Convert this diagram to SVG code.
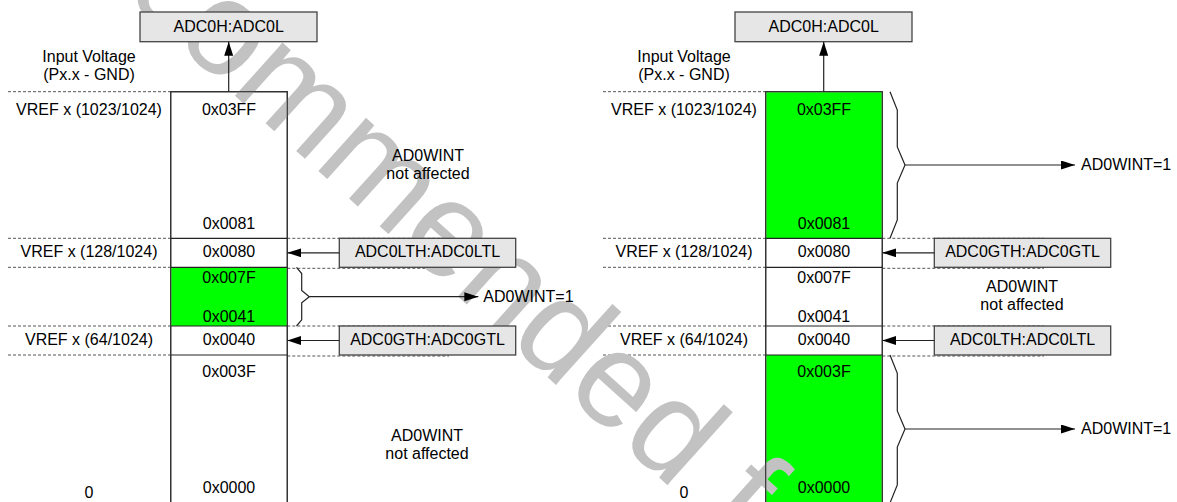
<svg xmlns="http://www.w3.org/2000/svg" width="1177" height="502" viewBox="0 0 1177 502">
<style>
text{font-family:"Liberation Sans",Arial,sans-serif;font-size:16px;fill:#000}
.c{text-anchor:middle}
.col{fill:#fff;stroke:#333;stroke-width:1.2}
.g{fill:#00ff00;stroke:none}
.row{stroke:#222;stroke-width:1.2;fill:none}
.dash{stroke:#555;stroke-width:1;stroke-dasharray:3 2;fill:none}
.box{fill:#e6e6e6;stroke:#444;stroke-width:1.3}
.ln{stroke:#222;stroke-width:1.2;fill:none}
.br{stroke:#222;stroke-width:1.2;fill:none;stroke-linejoin:miter}
.wm{font-size:135px;fill:#c2c2c2}
</style>
<defs>
<marker id="ah" markerUnits="userSpaceOnUse" markerWidth="15" markerHeight="10" refX="14" refY="4.5" orient="auto">
<path d="M0,0 L14,4.5 L0,9 z" fill="#000"/>
</marker>
</defs>
<rect width="1177" height="502" fill="#fff"/>

<g id="columns">
<rect class="col" x="170.7" y="91.7" width="116.6" height="420"/>
<rect class="g" x="171.3" y="267.3" width="115.4" height="58.7"/>
<rect class="col" x="765.7" y="91.7" width="116.6" height="420"/>
<rect class="g" x="766.3" y="92.3" width="115.4" height="146"/>
<rect class="g" x="766.3" y="355" width="115.4" height="150"/>
</g>

<g id="levels">
<path class="dash" d="M8,91.7H170.7 M8,238.3H170.7 M8,267.3H170.7 M8,326H170.7 M8,355H170.7 M287.3,238.3H449 M287.3,268.3H449 M287.3,326H449 M287.3,356H449"/>
<path class="dash" d="M603,91.7H765.7 M603,238.3H765.7 M603,267.3H765.7 M603,326H765.7 M603,355H765.7 M882.3,238.3H1044 M882.3,268.3H1044 M882.3,326H1044 M882.3,356H1044"/>
</g>

<g id="watermark">
<text class="wm" transform="translate(122,-6) rotate(42)">commended for</text>
</g>

<g id="rows">
<rect x="170.7" y="91.7" width="116.6" height="420" fill="none" stroke="#333" stroke-width="1.2"/>
<rect x="765.7" y="91.7" width="116.6" height="420" fill="none" stroke="#333" stroke-width="1.2"/>
<path class="row" d="M170.7,238.3H287.3 M170.7,267.3H287.3 M170.7,326H287.3 M170.7,355H287.3"/>
<path class="row" d="M765.7,238.3H882.3 M765.7,267.3H882.3 M765.7,326H882.3 M765.7,355H882.3"/>
</g>

<g id="n-adc-left">
<rect class="box" x="140" y="12" width="177" height="29.7"/>
<text class="c" x="228.7" y="32">ADC0H:ADC0L</text>
</g>
<g id="n-lth-left">
<rect class="box" x="339.3" y="238.3" width="176.4" height="29"/>
<text class="c" x="427.5" y="257.3">ADC0LTH:ADC0LTL</text>
</g>
<g id="n-gth-left">
<rect class="box" x="339.3" y="326" width="176.4" height="29"/>
<text class="c" x="427.5" y="345">ADC0GTH:ADC0GTL</text>
</g>
<g id="n-adc-right">
<rect class="box" x="735" y="12" width="177" height="29.7"/>
<text class="c" x="823.7" y="32">ADC0H:ADC0L</text>
</g>
<g id="n-gth-right">
<rect class="box" x="934.3" y="238.3" width="176.4" height="29"/>
<text class="c" x="1022.5" y="257.3">ADC0GTH:ADC0GTL</text>
</g>
<g id="n-lth-right">
<rect class="box" x="934.3" y="326" width="176.4" height="29"/>
<text class="c" x="1022.5" y="345">ADC0LTH:ADC0LTL</text>
</g>

<g id="connectors">
<path class="ln" d="M228.7,91.7V41.7" marker-end="url(#ah)"/>
<path class="ln" d="M339.3,252.8H287.3" marker-end="url(#ah)"/>
<path class="ln" d="M339.3,340.5H287.3" marker-end="url(#ah)"/>
<path class="ln" d="M309.3,296.7H478.3" marker-end="url(#ah)"/>
<path class="br" d="M296.5,267.3 L301.7,273.5 L301.7,290.5 L309.3,296.7 L301.7,302.9 L301.7,319.8 L296.5,326"/>
<path class="ln" d="M823.7,91.7V41.7" marker-end="url(#ah)"/>
<path class="ln" d="M934.3,252.8H882.3" marker-end="url(#ah)"/>
<path class="ln" d="M934.3,340.5H882.3" marker-end="url(#ah)"/>
<path class="ln" d="M905,165H1075" marker-end="url(#ah)"/>
<path class="ln" d="M905,429H1075" marker-end="url(#ah)"/>
<path class="br" d="M890,91.7 L897.3,110 L897.3,147 L905,165 L897.3,183 L897.3,220 L890,238.3"/>
<path class="br" d="M890,355 L897.3,373.3 L897.3,411 L905,429 L897.3,447 L897.3,485 L890,503"/>
</g>

<g id="labels-left">
<text class="c" x="89" y="61.5">Input Voltage</text>
<text class="c" x="89" y="80">(Px.x - GND)</text>
<text class="c" x="89" y="115">VREF x (1023/1024)</text>
<text class="c" x="89" y="257">VREF x (128/1024)</text>
<text class="c" x="89" y="345">VREF x (64/1024)</text>
<text class="c" x="89" y="498">0</text>
<text class="c" x="229" y="115">0x03FF</text>
<text class="c" x="229" y="229.3">0x0081</text>
<text class="c" x="229" y="257">0x0080</text>
<text class="c" x="229" y="282.7">0x007F</text>
<text class="c" x="229" y="321.7">0x0041</text>
<text class="c" x="229" y="345">0x0040</text>
<text class="c" x="229" y="376.7">0x003F</text>
<text class="c" x="229" y="493.3">0x0000</text>
<text class="c" x="428" y="161">AD0WINT</text>
<text class="c" x="428" y="179">not affected</text>
<text x="483.3" y="302">AD0WINT=1</text>
<text class="c" x="427" y="441">AD0WINT</text>
<text class="c" x="427" y="459">not affected</text>
</g>

<g id="labels-right">
<text class="c" x="684" y="61.5">Input Voltage</text>
<text class="c" x="684" y="80">(Px.x - GND)</text>
<text class="c" x="684" y="115">VREF x (1023/1024)</text>
<text class="c" x="684" y="257">VREF x (128/1024)</text>
<text class="c" x="684" y="345">VREF x (64/1024)</text>
<text class="c" x="684" y="498">0</text>
<text class="c" x="824" y="115">0x03FF</text>
<text class="c" x="824" y="229.3">0x0081</text>
<text class="c" x="824" y="257">0x0080</text>
<text class="c" x="824" y="282.7">0x007F</text>
<text class="c" x="824" y="321.7">0x0041</text>
<text class="c" x="824" y="345">0x0040</text>
<text class="c" x="824" y="376.7">0x003F</text>
<text class="c" x="824" y="493.3">0x0000</text>
<text x="1081" y="170">AD0WINT=1</text>
<text class="c" x="1022" y="292">AD0WINT</text>
<text class="c" x="1022" y="310">not affected</text>
<text x="1081" y="434">AD0WINT=1</text>
</g>
</svg>
